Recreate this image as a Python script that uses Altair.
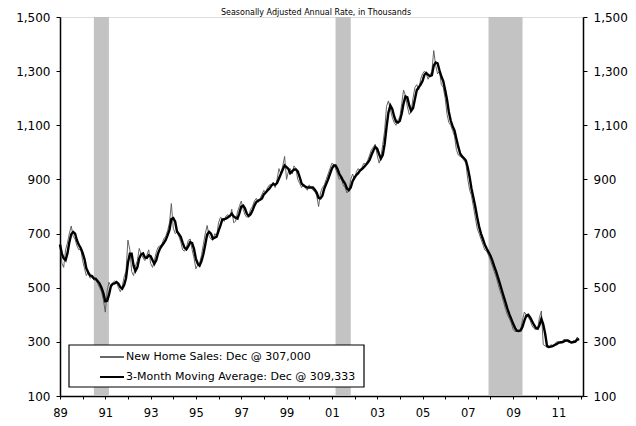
import altair as alt
import pandas as pd

# Monthly new home sales, SAAR, thousands (Jan 1989 - Dec 2011)
sales_1989 = [660, 590, 575, 640, 665, 700, 728, 690, 680, 655, 640, 645]
sales_1990 = [600, 570, 545, 555, 535, 540, 528, 530, 515, 500, 485, 455]
sales_1991 = [410, 490, 520, 505, 518, 525, 520, 500, 485, 505, 540, 560]
sales_1992 = [676, 640, 560, 545, 580, 600, 645, 625, 610, 600, 620, 640]
sales_1993 = [590, 575, 600, 630, 650, 655, 660, 680, 690, 710, 740, 811]
sales_1994 = [720, 700, 705, 690, 670, 640, 635, 650, 675, 680, 640, 610]
sales_1995 = [570, 585, 590, 620, 660, 700, 730, 690, 680, 675, 700, 690]
sales_1996 = [740, 760, 755, 745, 765, 770, 760, 790, 740, 745, 780, 800]
sales_1997 = [820, 790, 770, 760, 765, 790, 800, 820, 830, 815, 830, 845]
sales_1998 = [860, 850, 870, 880, 880, 890, 870, 900, 940, 920, 950, 985]
sales_1999 = [900, 930, 940, 920, 950, 940, 900, 885, 870, 880, 870, 860]
sales_2000 = [880, 870, 860, 855, 840, 800, 850, 870, 880, 900, 920, 940]
sales_2001 = [960, 955, 940, 920, 900, 905, 880, 870, 850, 860, 900, 920]
sales_2002 = [900, 930, 940, 930, 945, 960, 955, 970, 990, 1010, 1020, 1030]
sales_2003 = [990, 960, 980, 1030, 1080, 1170, 1190, 1160, 1130, 1110, 1100, 1120]
sales_2004 = [1130, 1180, 1230, 1210, 1170, 1140, 1150, 1200, 1240, 1250, 1230, 1270]
sales_2005 = [1290, 1300, 1290, 1270, 1285, 1300, 1376, 1320, 1290, 1300, 1250, 1240]
sales_2006 = [1200, 1140, 1110, 1100, 1080, 1060, 1010, 990, 985, 980, 970, 960]
sales_2007 = [900, 860, 840, 800, 760, 720, 700, 680, 660, 640, 635, 620]
sales_2008 = [600, 580, 560, 540, 515, 490, 470, 445, 420, 400, 385, 370]
sales_2009 = [345, 338, 340, 342, 345, 380, 410, 400, 390, 380, 360, 350]
sales_2010 = [345, 350, 390, 414, 290, 285, 280, 278, 290, 285, 290, 300]
sales_2011 = [300, 295, 300, 310, 305, 300, 298, 295, 305, 303, 318, 307]

recession_start = ["1990-07-01", "2001-03-01", "2007-12-01"]
recession_end = ["1991-03-01", "2001-11-01", "2009-06-01"]

y_ticks = [100, 300, 500, 700, 900, 1100, 1300, 1500]
legend_labels = ["New Home Sales: Dec @ 307,000", "3-Month Moving Average: Dec @ 309,333"]
subtitle = "Seasonally Adjusted Annual Rate, in Thousands"

all_sales = (sales_1989 + sales_1990 + sales_1991 + sales_1992 + sales_1993 + sales_1994
             + sales_1995 + sales_1996 + sales_1997 + sales_1998 + sales_1999 + sales_2000
             + sales_2001 + sales_2002 + sales_2003 + sales_2004 + sales_2005 + sales_2006
             + sales_2007 + sales_2008 + sales_2009 + sales_2010 + sales_2011)
dates = pd.date_range("1989-01-01", periods=len(all_sales), freq="MS")
df = pd.DataFrame({"date": dates.strftime("%Y-%m-%d"), "sales": all_sales})
rec = pd.DataFrame({"start": recession_start, "end": recession_end})

FONT = "DejaVu Sans"
W, H = 523, 379
x_scale = alt.Scale(domain=[alt.DateTime(year=1989, month=1, date=1),
                            alt.DateTime(year=2012, month=2, date=1)])
y_scale = alt.Scale(domain=[100, 1500])
x_ticks = [alt.DateTime(year=y, month=1, date=1) for y in range(1989, 2013)]

x_axis = alt.Axis(values=x_ticks, title=None, grid=False,
                  labelExpr="year(datum.value) % 2 == 1 ? timeFormat(datum.value, '%y') : ''",
                  labelFont=FONT, labelFontSize=11.5, labelColor="black", labelPadding=8,
                  domainColor="black", domainWidth=1.5, tickColor="black", tickSize=3,
                  labelFlush=False)
y_left = alt.Axis(values=y_ticks, format=",d", title=None, grid=False, orient="left",
                  labelFont=FONT, labelFontSize=12, labelColor="black", labelPadding=6,
                  domainColor="black", domainWidth=1.5, tickColor="black", tickSize=4)
y_right = alt.Axis(values=y_ticks, format=",d", title=None, grid=False, orient="right",
                   labelFont=FONT, labelFontSize=12, labelColor="black", labelPadding=6,
                   domainColor="black", domainWidth=1.5, tickColor="black", tickSize=4)

bars = alt.Chart(rec).mark_rect(fill="#bdbdbd", opacity=0.9).encode(
    x=alt.X("start:T", scale=x_scale, axis=x_axis),
    x2="end:T",
    y=alt.value(0),
    y2=alt.value(H),
)

base = alt.Chart(df)
monthly = base.mark_line(color="#555555", strokeWidth=0.9).encode(
    x=alt.X("date:T", scale=x_scale, axis=x_axis),
    y=alt.Y("sales:Q", scale=y_scale, axis=y_left),
)
ma = base.transform_window(
    ma="mean(sales)", frame=[-2, 0], sort=[alt.SortField("date")]
).mark_line(color="black", strokeWidth=2.4).encode(
    x=alt.X("date:T", scale=x_scale, axis=x_axis),
    y=alt.Y("ma:Q", scale=y_scale, axis=y_right),
)

leg = pd.DataFrame({"label": legend_labels, "row": [0, 1]})
leg_box = alt.Chart(pd.DataFrame({"a": [0]})).mark_rect(
    fill="white", stroke="black", strokeWidth=1.2
).encode(x=alt.value(9), x2=alt.value(304), y=alt.value(328), y2=alt.value(370))
leg_line1 = alt.Chart(leg.iloc[[0]]).mark_rule(color="black", strokeWidth=1.2).encode(
    x=alt.value(40), x2=alt.value(64), y=alt.value(340))
leg_line2 = alt.Chart(leg.iloc[[1]]).mark_rule(color="black", strokeWidth=2).encode(
    x=alt.value(40), x2=alt.value(64), y=alt.value(360))
leg_text1 = alt.Chart(leg.iloc[[0]]).mark_text(
    align="left", baseline="middle", font=FONT, fontSize=11, color="black"
).encode(x=alt.value(66), y=alt.value(340), text="label:N")
leg_text2 = alt.Chart(leg.iloc[[1]]).mark_text(
    align="left", baseline="middle", font=FONT, fontSize=11, color="black"
).encode(x=alt.value(66), y=alt.value(360), text="label:N")

top_text = alt.Chart(pd.DataFrame({"t": [subtitle]})).mark_text(
    align="center", baseline="top", font=FONT, fontSize=8, color="black"
).encode(x=alt.value(256), y=alt.value(-8.5), text="t:N")

chart = alt.layer(
    bars, monthly, ma, leg_box, leg_line1, leg_line2, leg_text1, leg_text2, top_text
).resolve_axis(y="independent").properties(
    width=W, height=H,
    autosize=alt.AutoSizeParams(type="none"),
    padding={"left": 52, "top": 9, "right": 45, "bottom": 22},
).configure_view(stroke="black", strokeWidth=1.5).configure(background="white")

chart.save("out.html", embed_options={"renderer": "svg", "actions": False})
